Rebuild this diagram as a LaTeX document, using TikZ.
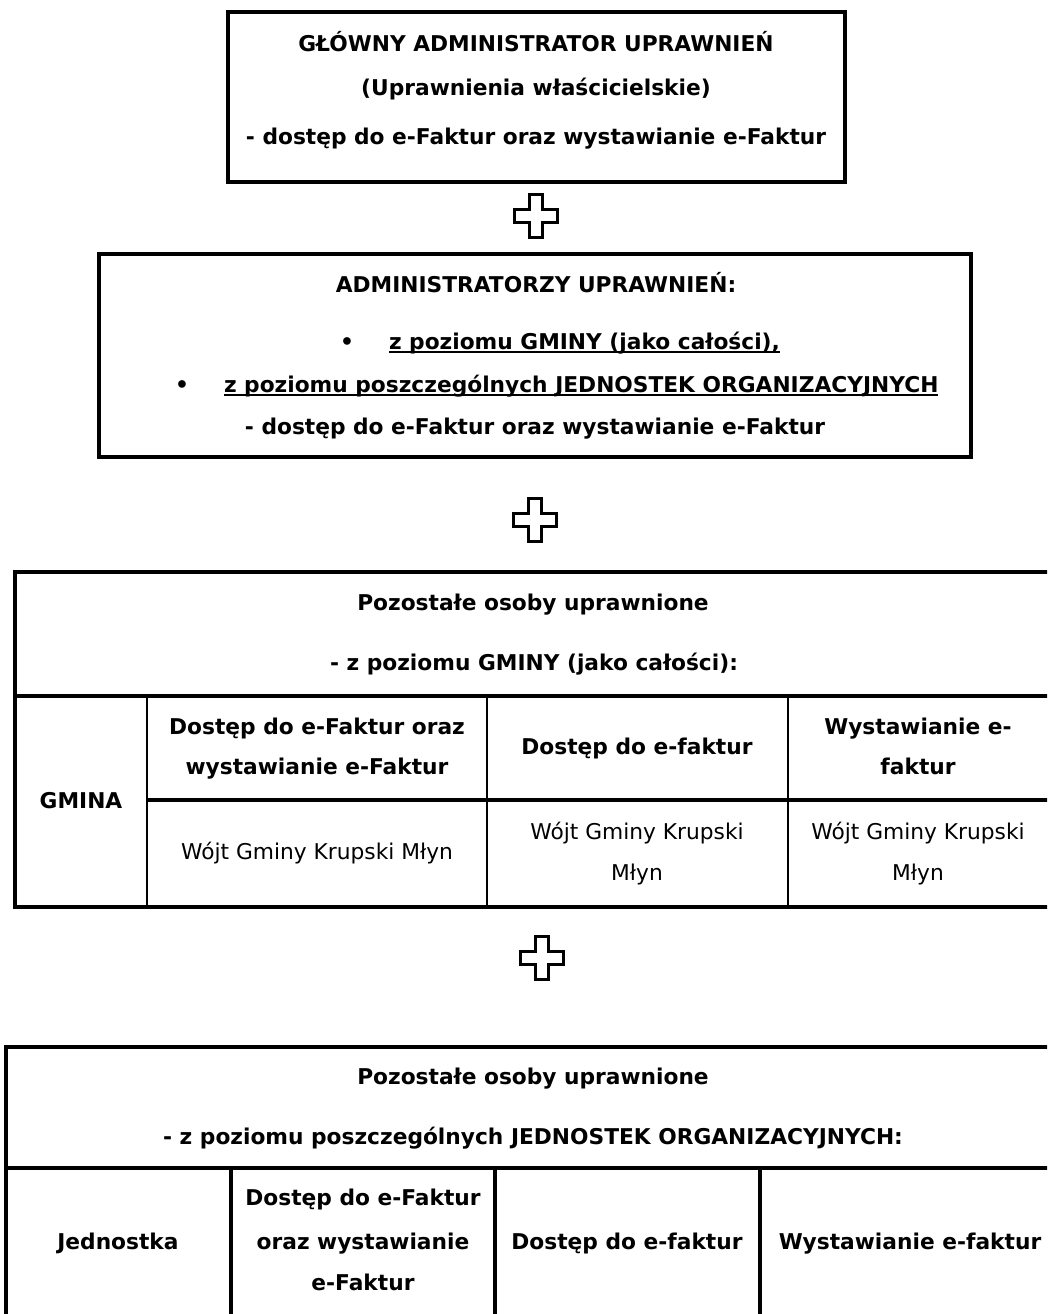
\documentclass[tikz,border=0pt]{standalone}
\usepackage{fontspec}
\setmainfont{DejaVu Sans}
\usetikzlibrary{fit}
\begin{document}
\begin{tikzpicture}[x=0.75pt,y=-0.75pt,
  txt/.style={inner sep=0pt, outer sep=0pt, anchor=base, font=\fontsize{16.3pt}{20pt}\selectfont},
  btxt/.style={txt, font=\fontsize{16.3pt}{20pt}\selectfont\bfseries},
  frame/.style={draw, line width=3pt, inner sep=0pt, outer sep=0pt},
  ruleA/.style={line width=3pt, line join=miter},
  ruleB/.style={line width=2.6pt},
  ruleC/.style={line width=1.6pt},
  ulrule/.style={line width=1.5pt},
  crossshape/.style={draw, line width=2.4pt, line join=miter},
  pics/plusmark/.style={code={
    \draw[crossshape] (-6.5,-21.5) -- (6.5,-21.5) -- (6.5,-6.5) -- (21.5,-6.5)
      -- (21.5,6.5) -- (6.5,6.5) -- (6.5,21.5) -- (-6.5,21.5) -- (-6.5,6.5)
      -- (-21.5,6.5) -- (-21.5,-6.5) -- (-6.5,-6.5) -- cycle;}}
]
\useasboundingbox (0,0) rectangle (1047,1314);
\clip (0,0) rectangle (1047,1314);

% ---------- Box 1 ----------
\coordinate (b1nw) at (228,11.5);
\coordinate (b1se) at (845,181.5);
\node[frame, fit=(b1nw)(b1se)] (box1) {};
\node[btxt] (b1l1) at (536,51) {GŁÓWNY ADMINISTRATOR UPRAWNIEŃ};
\node[btxt] (b1l2) at (536,95) {(Uprawnienia właścicielskie)};
\node[btxt] (b1l3) at (536,144) {- dostęp do e-Faktur oraz wystawianie e-Faktur};

\pic at (536,216) {plusmark};

% ---------- Box 2 ----------
\coordinate (b2nw) at (99,253.5);
\coordinate (b2se) at (971,457);
\node[frame, fit=(b2nw)(b2se)] (box2) {};
\node[btxt] (b2l1) at (536,292) {ADMINISTRATORZY UPRAWNIEŃ:};
\node[btxt] (bul1) at (347,349) {•};
\node[btxt, anchor=base west] (u1) at (389,349) {z poziomu GMINY (jako całości),};
\node[btxt] (bul2) at (182,392) {•};
\node[btxt, anchor=base west] (u2) at (224,392) {z poziomu poszczególnych JEDNOSTEK ORGANIZACYJNYCH};
\draw[ulrule] ([yshift=-2pt]u1.base west) -- ([yshift=-2pt]u1.base east);
\draw[ulrule] ([yshift=-2pt]u2.base west) -- ([yshift=-2pt]u2.base east);
\node[btxt] (b2l4) at (535,434) {- dostęp do e-Faktur oraz wystawianie e-Faktur};

\pic at (535,520) {plusmark};

% ---------- Table 1 ----------
\draw[ruleA] (1060,572) -- (15,572) -- (15,907) -- (1060,907);
\draw[ruleB] (15,696) -- (1060,696);
\draw[ruleB] (147,800) -- (1060,800);
\draw[ruleC] (147,696) -- (147,907);
\draw[ruleC] (487,696) -- (487,907);
\draw[ruleC] (788,696) -- (788,907);

\node[btxt] (t1h1) at (533,610) {Pozostałe osoby uprawnione};
\node[btxt] (t1h2) at (534,670) {- z poziomu GMINY (jako całości):};
\node[btxt] (t1c1) at (81,808) {GMINA};
\node[btxt] (t1c2a) at (317,734) {Dostęp do e-Faktur oraz};
\node[btxt] (t1c2b) at (317,774) {wystawianie e-Faktur};
\node[btxt] (t1c3) at (637,754) {Dostęp do e-faktur};
\node[btxt] (t1c4a) at (918,734) {Wystawianie e-};
\node[btxt] (t1c4b) at (918,774) {faktur};
\node[txt] (t1d2) at (317,859) {Wójt Gminy Krupski Młyn};
\node[txt] (t1d3a) at (637,839) {Wójt Gminy Krupski};
\node[txt] (t1d3b) at (637,880) {Młyn};
\node[txt] (t1d4a) at (918,839) {Wójt Gminy Krupski};
\node[txt] (t1d4b) at (918,880) {Młyn};

\pic at (542,958) {plusmark};

% ---------- Table 2 ----------
\draw[ruleA] (1060,1047) -- (6,1047) -- (6,1330);
\draw[ruleB] (6,1168) -- (1060,1168);
\draw[ruleB] (231,1168) -- (231,1330);
\draw[ruleB] (495,1168) -- (495,1330);
\draw[ruleB] (760,1168) -- (760,1330);

\node[btxt] (t2h1) at (533,1084) {Pozostałe osoby uprawnione};
\node[btxt] (t2h2) at (533,1144) {- z poziomu poszczególnych JEDNOSTEK ORGANIZACYJNYCH:};
\node[btxt] (t2c1) at (118,1249) {Jednostka};
\node[btxt] (t2c2a) at (363,1205) {Dostęp do e-Faktur};
\node[btxt] (t2c2b) at (363,1249) {oraz wystawianie};
\node[btxt] (t2c2c) at (363,1290) {e-Faktur};
\node[btxt] (t2c3) at (627,1249) {Dostęp do e-faktur};
\node[btxt] (t2c4) at (910,1249) {Wystawianie e-faktur};
\end{tikzpicture}
\end{document}
